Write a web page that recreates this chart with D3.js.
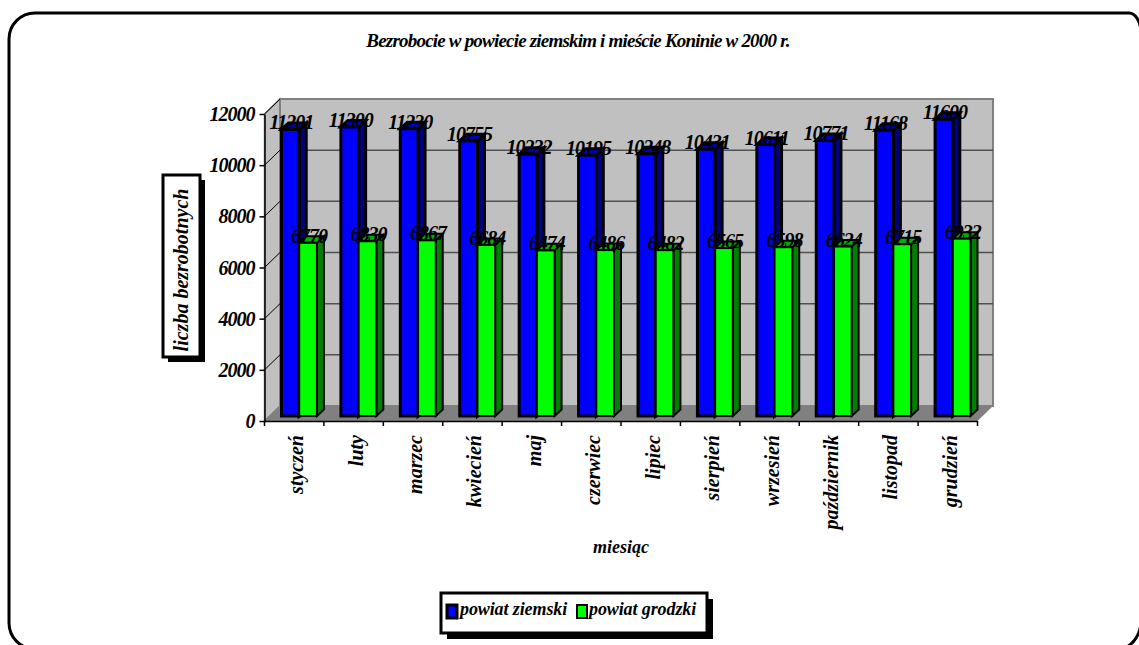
<!DOCTYPE html>
<html>
<head>
<meta charset="utf-8">
<script src="https://cdn.jsdelivr.net/npm/d3@7"></script>
<style>
  body { margin: 0; background: #fff; overflow: hidden; }
  svg { display: block; }
  text { font-family: "Liberation Serif", serif; font-weight: bold; font-style: italic; fill: #000; }
</style>
</head>
<body>
<script>
const months = ["styczeń", "luty", "marzec", "kwiecień", "maj", "czerwiec", "lipiec", "sierpień", "wrzesień", "październik", "listopad", "grudzień"];
const ziemski = [11201, 11300, 11230, 10755, 10232, 10195, 10248, 10431, 10611, 10771, 11168, 11600];
const grodzki = [6770, 6830, 6867, 6684, 6474, 6486, 6482, 6565, 6598, 6624, 6715, 6932];
const yTicks = [0, 2000, 4000, 6000, 8000, 10000, 12000];
const seriesNames = ["powiat ziemski", "powiat grodzki"];

const width = 1139;
const height = 645;
const depth = {x: 15.5, y: 15};   // back wall offset
const barDepth = {x: 7, y: 6.5};
const barShift = {x: 5, y: 5};    // bars stand a bit behind the front edge

const xScale = d3.scaleBand().domain(months).range([264.5, 977.5]);
const yScale = d3.scaleLinear().domain([0, 12000]).range([421, 114]);
const barScale = d3.scaleBand().domain(seriesNames)
  .range([12, xScale.bandwidth() - 12]);

const svg = d3.select("body").append("svg")
  .attr("width", width)
  .attr("height", height);

// outer frame, runs off the page on the right and at the bottom
svg.append("path")
  .attr("d", "M35,13 H1129 A12,20 0 0 1 1141,33 V620 A23,29 0 0 1 1118,649 H35 A26,26 0 0 1 9,623 V39 A26,26 0 0 1 35,13 Z")
  .attr("fill", "#fff")
  .attr("stroke", "#000")
  .attr("stroke-width", 3);

svg.append("text")
  .attr("x", 578)
  .attr("y", 47)
  .attr("text-anchor", "middle")
  .attr("font-size", 19)
  .attr("letter-spacing", -0.8)
  .text("Bezrobocie w powiecie ziemskim i mieście Koninie w 2000 r.");

// 3d walls
const [x0, x1] = xScale.range();
const y0 = yScale(0);
const yTop = yScale(12000);
const plane = pts => pts.map(p => p.join(",")).join(" ");

svg.append("polygon")
  .attr("points", plane([[x0, y0], [x0 + depth.x, y0 - depth.y], [x0 + depth.x, yTop - depth.y], [x0, yTop]]))
  .attr("fill", "#c0c0c0")
  .attr("stroke", "#808080")
  .attr("stroke-width", 1.5);
svg.append("rect")
  .attr("x", x0 + depth.x)
  .attr("y", yTop - depth.y)
  .attr("width", x1 - x0)
  .attr("height", y0 - yTop)
  .attr("fill", "#c0c0c0")
  .attr("stroke", "#808080")
  .attr("stroke-width", 2);
svg.append("polygon")
  .attr("points", plane([[x0, y0], [x0 + depth.x, y0 - depth.y], [x1 + depth.x, y0 - depth.y], [x1, y0]]))
  .attr("fill", "#808080");

// gridlines on the back wall and their run along the left wall
svg.append("g")
  .selectAll("line")
  .data(yTicks.filter(d => d > 0 && d < 12000))
  .join("line")
    .attr("x1", x0 + depth.x)
    .attr("x2", x1 + depth.x)
    .attr("y1", d => yScale(d) - depth.y)
    .attr("y2", d => yScale(d) - depth.y)
    .attr("stroke", "#505050")
    .attr("stroke-width", 1.5);
svg.append("g")
  .selectAll("line")
  .data(yTicks)
  .join("line")
    .attr("x1", x0)
    .attr("x2", x0 + depth.x)
    .attr("y1", d => yScale(d))
    .attr("y2", d => yScale(d) - depth.y)
    .attr("stroke", d => d === 0 ? "#808080" : "#000")
    .attr("stroke-width", 1);

// bars
const seriesStyle = [
  {values: ziemski, front: "#0000ff", side: "#000080", top: "#0000c0", line: 3},
  {values: grodzki, front: "#00ff00", side: "#008000", top: "#00b000", line: 2}
];

function drawBar(g, month, value, name, st) {
  const left = xScale(month) + barScale(name) + barShift.x;
  const right = left + barScale.bandwidth();
  const top = yScale(value) - barShift.y;
  const base = yScale(0) - barShift.y;
  const dx = barDepth.x;
  const dy = barDepth.y;
  g.append("polygon")
    .attr("points", plane([[right, base], [right + dx, base - dy], [right + dx, top - dy], [right, top]]))
    .attr("fill", st.side);
  g.append("polygon")
    .attr("points", plane([[left, top], [left + dx, top - dy], [right + dx, top - dy], [right, top]]))
    .attr("fill", st.top);
  g.append("rect")
    .attr("x", left)
    .attr("y", top)
    .attr("width", right - left)
    .attr("height", base - top)
    .attr("fill", st.front);
  g.selectAll("polygon, rect")
    .attr("stroke", "#000")
    .attr("stroke-width", st.line)
    .attr("stroke-linejoin", "miter");
}

const barsG = svg.append("g");
months.forEach((m, i) => {
  seriesNames.forEach((name, s) => {
    drawBar(barsG.append("g"), m, seriesStyle[s].values[i], name, seriesStyle[s]);
  });
});

// value labels go over the bars
months.forEach((m, i) => {
  seriesNames.forEach((name, s) => {
    const v = seriesStyle[s].values[i];
    svg.append("text")
      .attr("x", xScale(m) + barScale(name) + barShift.x + barScale.bandwidth() / 2 + 1)
      .attr("y", yScale(v) - barShift.y)
      .attr("text-anchor", "middle")
      .attr("font-size", 20)
      .attr("letter-spacing", -1)
      .text(v);
  });
});

// axes
const yAxis = g => g
  .attr("transform", `translate(${x0},0)`)
  .call(d3.axisLeft(yScale).tickValues(yTicks).tickFormat(d => d).tickSize(5).tickPadding(5).tickSizeOuter(0))
  .call(g => g.selectAll("text").attr("font-size", 20).attr("letter-spacing", -1).attr("font-family", null).attr("dy", "0.33em"))
  .call(g => g.selectAll("line, path").attr("stroke", "#000").attr("stroke-width", 1.5));
svg.append("g").call(yAxis).attr("font-family", null);

const xAxis = g => g
  .attr("transform", `translate(0,${y0})`)
  .call(d3.axisBottom(xScale).tickSize(0).tickPadding(0))
  .call(g => g.select(".domain").attr("stroke", "#000").attr("stroke-width", 1.5))
  .call(g => g.selectAll("text")
    .attr("font-size", 20)
    .attr("font-family", null)
    .attr("text-anchor", "end")
    .attr("transform", "translate(2,14) rotate(-90)")
    .attr("x", 0)
    .attr("y", 0)
    .attr("dy", "0.35em"));
svg.append("g").call(xAxis).attr("font-family", null);

// the x ticks sit between the categories, not on them
svg.append("g")
  .selectAll("line")
  .data([x0].concat(months.map(m => xScale(m) + xScale.bandwidth())))
  .join("line")
    .attr("x1", d => d)
    .attr("x2", d => d)
    .attr("y1", y0)
    .attr("y2", y0 + 5)
    .attr("stroke", "#000")
    .attr("stroke-width", 1.5);

svg.append("text")
  .attr("x", 621)
  .attr("y", 553)
  .attr("text-anchor", "middle")
  .attr("font-size", 18)
  .text("miesiąc");

// boxes with a hard drop shadow
function shadowBox(x, y, w, h, off) {
  svg.append("rect")
    .attr("x", x + off).attr("y", y + off)
    .attr("width", w).attr("height", h)
    .attr("fill", "#000");
  svg.append("rect")
    .attr("x", x).attr("y", y)
    .attr("width", w).attr("height", h)
    .attr("fill", "#fff")
    .attr("stroke", "#000")
    .attr("stroke-width", 3);
}

shadowBox(163, 175, 37, 182, 5);
svg.append("text")
  .attr("transform", "translate(188,270) rotate(-90)")
  .attr("text-anchor", "middle")
  .attr("font-size", 20)
  .text("liczba bezrobotnych");

shadowBox(441, 593, 266, 40, 6);
[
  {x: 447, textX: 460},
  {x: 577, textX: 589}
].forEach((d, i) => {
  svg.append("rect")
    .attr("x", d.x).attr("y", 605)
    .attr("width", 10).attr("height", 13)
    .attr("fill", seriesStyle[i].front)
    .attr("stroke", "#000")
    .attr("stroke-width", i === 0 ? 3 : 2);
  svg.append("text")
    .attr("x", d.textX)
    .attr("y", 615)
    .attr("font-size", 18)
    .attr("letter-spacing", -0.1)
    .text(seriesNames[i]);
});
</script>
</body>
</html>
